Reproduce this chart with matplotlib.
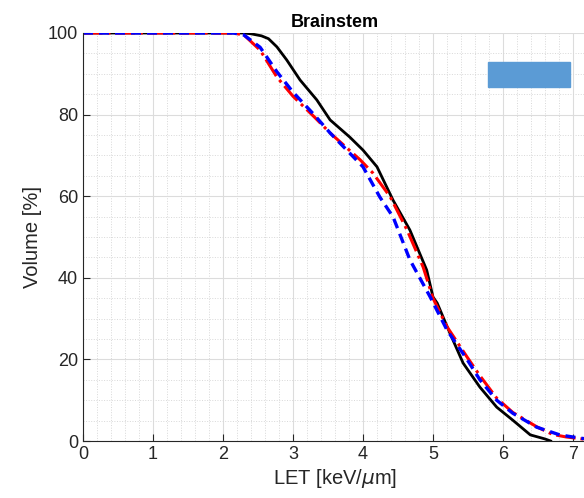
import matplotlib
matplotlib.use('Agg')
import matplotlib.pyplot as plt
from matplotlib.patches import Rectangle
from matplotlib.ticker import MultipleLocator

plt.rcParams['font.family'] = ['Liberation Sans', 'DejaVu Sans']

# black solid curve
let_black = [0, 2.3, 2.4, 2.55, 2.65, 2.77, 2.91, 3.1, 3.34, 3.53, 3.81, 4.0, 4.2, 4.43,
             4.67, 4.91, 5.0, 5.06, 5.24, 5.43, 5.67, 5.91, 6.14, 6.39, 6.6, 6.68]
vol_black = [100, 100, 99.8, 99.3, 98.6, 96.6, 93.4, 88.5, 83.6, 78.7, 74.5, 71.3, 67.2, 59,
             51.7, 41.9, 35.3, 33.8, 26.5, 19.1, 13.2, 8.3, 5.1, 1.5, 0.5, 0]

# red dash-dot curve
let_red = [0, 2.15, 2.3, 2.53, 2.77, 3.0, 3.3, 3.53, 3.96, 4.14, 4.39, 4.63, 4.86,
           5.0, 5.2, 5.49, 5.67, 5.91, 6.14, 6.48, 6.71, 6.9, 7.13, 7.3]
vol_red = [100, 100, 99.5, 95.8, 89.2, 84.5, 79.5, 75.5, 68.9, 65.7, 59.8, 51.7, 42.6,
           35, 28, 20.5, 16, 10.5, 7, 3.5, 1.6, 1, 0.5, 0.2]

# blue dashed curve
let_blue = [0, 2.15, 2.3, 2.53, 2.77, 3.0, 3.3, 3.53, 4.0, 4.24, 4.43, 4.67, 4.96,
            5.2, 5.49, 5.67, 5.91, 6.14, 6.48, 6.81, 7.1, 7.3]
vol_blue = [100, 100, 99.5, 96.5, 90.5, 85.5, 80, 75.5, 67.2, 59.8, 54.9, 44.4, 35.3,
            27.2, 19.9, 15, 10, 6.8, 3.4, 1.5, 0.7, 0.3]

fig = plt.figure(figsize=(5.84, 4.98), dpi=100)
ax = fig.add_axes([83 / 584, 57 / 498, 504 / 584, 408 / 498])

ax.plot(let_black, vol_black, color='black', linewidth=2, linestyle='-')
ax.plot(let_red, vol_red, color='red', linewidth=2.2, linestyle='-.')
ax.plot(let_blue, vol_blue, color='blue', linewidth=2.4, linestyle='--', dashes=(3, 1.8))

ax.set_xlim(0, 7.2)
ax.set_ylim(0, 100)
ax.xaxis.set_major_locator(MultipleLocator(1))
ax.xaxis.set_minor_locator(MultipleLocator(0.2))
ax.yaxis.set_major_locator(MultipleLocator(20))
ax.yaxis.set_minor_locator(MultipleLocator(5))
ax.grid(True, which='major', color='#dcdcdc', linewidth=0.8)
ax.grid(True, which='minor', color='#d8d8d8', linestyle=':', linewidth=0.7)
ax.set_axisbelow(True)

for s in ['top', 'right']:
    ax.spines[s].set_visible(False)
for s in ['left', 'bottom']:
    ax.spines[s].set_color('#262626')
    ax.spines[s].set_linewidth(0.8)
ax.tick_params(which='major', direction='in', length=5, labelsize=13,
               colors='#262626', width=0.8)
ax.tick_params(which='minor', length=0)

ax.set_xlabel('LET [keV/$\\mu$m]', fontsize=14.5, color='#262626', labelpad=3)
ax.set_ylabel('Volume [%]', fontsize=14.5, color='#262626')
ax.set_title('Brainstem', fontsize=13, fontweight='bold', pad=4)

# legend box (cropped in the original)
box = Rectangle(((488 - 83) / 504, (441 - 87) / 408), 82 / 504, 25 / 408,
                transform=ax.transAxes, facecolor='#5b9bd5', edgecolor='#5b9bd5',
                clip_on=False, zorder=5)
ax.add_patch(box)

fig.savefig('out.png', dpi=100)
